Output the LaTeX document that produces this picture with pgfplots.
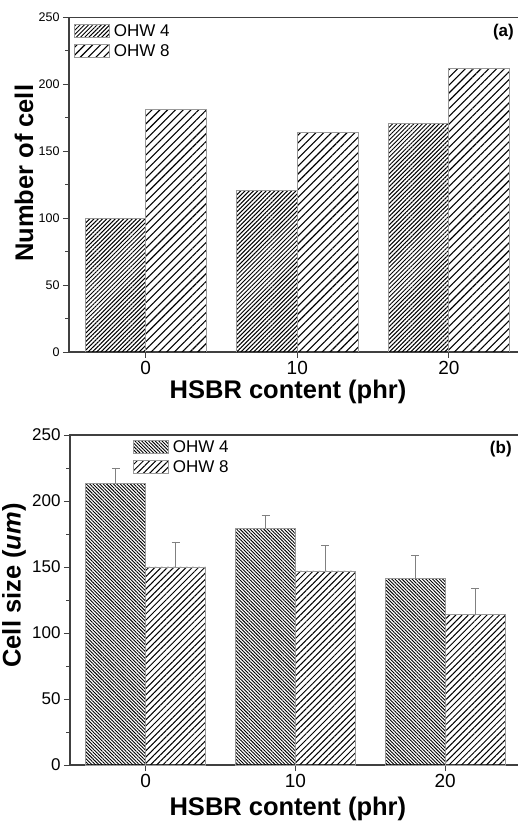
\documentclass[border=0pt]{standalone}
\usepackage{fontspec}
\setmainfont{Liberation Sans}
\usepackage{pgfplots}
\pgfplotsset{compat=1.18}
\usetikzlibrary{patterns.meta}

\pgfplotsset{
  panel/.style={
    scale only axis,
    ymin=0, ymax=250,
    xtick={0,10,20}, ytick={0,50,...,250}, minor y tick num=1,
    tick align=outside, xtick pos=left, ytick pos=left,
    major tick length=6pt, minor tick length=3.5pt,
    axis line style={black!75, line width=1.3pt},
    every tick/.style={black!75, line width=0.9pt},
    /pgf/number format/assume math mode=true,
    ybar, bar width=4,
    legend cell align=left,
    legend image code/.code={\draw[##1,/tikz/.cd,line width=0.8pt] (0pt,-6.5pt) rectangle (35pt,6.5pt);},
    xlabel style={font=\fontsize{25.5}{25.5}\selectfont\bfseries},
    ylabel style={font=\fontsize{25.5}{25.5}\selectfont\bfseries, anchor=center},
  },
}

\begin{document}
\begin{tikzpicture}[x=1pt,y=1pt]
\useasboundingbox (0,0) rectangle (518,822);

% ---------------- (a) ----------------
\begin{axis}[panel,
  at={(69pt,470pt)}, anchor=south west,
  width=452pt, height=334.5pt,
  xmin=-5.06, xmax=24.76,
  xticklabel style={font=\fontsize{19}{19}\selectfont},
  yticklabel style={font=\fontsize{12.5}{12.5}\selectfont},
  xlabel={HSBR content (phr)},
  xlabel style={at={(axis description cs:0.4845,0)}, anchor=base, yshift=-46.5pt},
  ylabel={Number of cell},
  ylabel style={at={(axis description cs:-0.0996,0.534)}},
  legend style={at={(axis description cs:0.011,0.981)}, anchor=north west,
    draw=none, fill=none, inner sep=0pt, row sep=6.5pt,
    font=\fontsize{17}{17}\selectfont,
    nodes={inner xsep=4pt, inner ysep=0pt}},
]
\addplot[bar shift=-2, draw=gray!80, line width=0.8pt,
  pattern={Lines[angle=45,distance=3pt,line width=1pt]}]
  coordinates {(0,100) (10,121) (20,171)};
\addplot[bar shift=2, draw=gray!80, line width=0.8pt,
  pattern={Lines[angle=45,distance=5.5pt,line width=1.1pt]}]
  coordinates {(0,181) (10,164) (20,212)};
\legend{OHW 4, OHW 8}
\node[anchor=base east, font=\fontsize{17}{17}\selectfont\bfseries]
  at (axis description cs:0.992,0.943) {(a)};
\end{axis}

% ---------------- (b) ----------------
\begin{axis}[panel,
  at={(70pt,57pt)}, anchor=south west,
  width=452pt, height=330pt,
  xmin=-5.06, xmax=25.13,
  xticklabel style={font=\fontsize{19}{19}\selectfont},
  yticklabel style={font=\fontsize{17}{17}\selectfont},
  xlabel={HSBR content (phr)},
  xlabel style={at={(axis description cs:0.482,0)}, anchor=base, yshift=-50pt},
  ylabel={Cell size (\textit{um})},
  ylabel style={at={(axis description cs:-0.124,0.544)}},
  legend style={at={(axis description cs:0.139,0.984)}, anchor=north west,
    draw=none, fill=none, inner sep=0pt, row sep=6pt,
    font=\fontsize{17}{17}\selectfont,
    nodes={inner xsep=4pt, inner ysep=0pt}},
]
\addplot[bar shift=-2, draw=gray!80, line width=0.8pt,
  pattern={Lines[angle=-45,distance=2.4pt,line width=0.9pt]},
  error bars/.cd, y dir=plus, y explicit,
  error bar style={gray, line width=0.8pt},
  error mark options={gray, line width=0.8pt, mark size=4pt, rotate=90}]
  coordinates {(0,213) +- (0,12) (10,179) +- (0,10) (20,141) +- (0,18)};
\addplot[bar shift=2, draw=gray!80, line width=0.8pt,
  pattern={Lines[angle=45,distance=4.4pt,line width=1pt]},
  error bars/.cd, y dir=plus, y explicit,
  error bar style={gray, line width=0.8pt},
  error mark options={gray, line width=0.8pt, mark size=4pt, rotate=90}]
  coordinates {(0,150) +- (0,19) (10,147) +- (0,19) (20,114) +- (0,20)};
\legend{OHW 4, OHW 8}
\node[anchor=base east, font=\fontsize{17}{17}\selectfont\bfseries]
  at (axis description cs:0.985,0.945) {(b)};
\end{axis}
\end{tikzpicture}
\end{document}
